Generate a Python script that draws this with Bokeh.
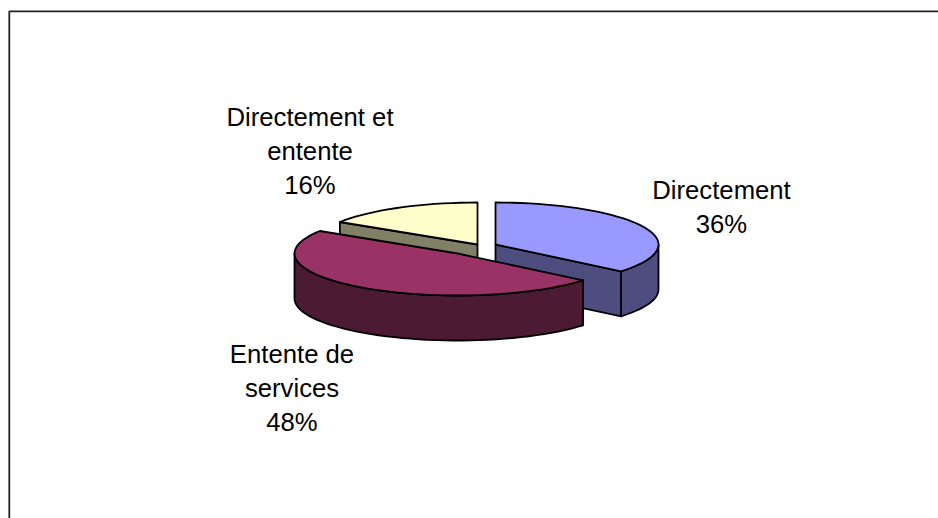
import math
from bokeh.plotting import figure
from bokeh.models import Range1d
from bokeh.core.properties import value
from bokeh.embed import file_html
from bokeh.resources import INLINE

# ---- data ----
categories = ["Directement", "Entente de services", "Directement et entente"]
shares = [36, 48, 16]
label_lines = [["Directement"], ["Entente de", "services"], ["Directement et", "entente"]]

# ---- style ----
top_colors = ["#9999FF", "#993366", "#FFFFCC"]
side_colors = ["#4D4D80", "#4D1A33", "#808066"]
FONT = "Liberation Sans"
FONT_SIZE = "25.7px"
LINE_H = 34

# ---- layout (page pixels) ----
W, H = 938, 518
RX, RY, DEPTH = 163, 42, 45
centres = [(495, 244), (457, 253), (477, 244)]
label_anchor = [(721, 189.5), (291.5, 353.5), (309.5, 116.5)]

p = figure(width=W, height=H, x_range=Range1d(0, W), y_range=Range1d(H, 0),
           toolbar_location=None, output_backend="svg", min_border=0)
p.axis.visible = False
p.grid.visible = False
p.outline_line_color = None
p.background_fill_color = "white"
p.border_fill_color = "white"

# chart frame: top and left edges only
p.line([8.8, 8.8, W], [H, 10.8, 10.8], line_color="#222222", line_width=1.8)


def rim(c, a0, a1, step=3.0):
    n = max(2, int(abs(a1 - a0) / step) + 1)
    pts = [a0 + (a1 - a0) * i / (n - 1) for i in range(n)]
    xs = [c[0] + RX * math.sin(math.radians(a)) for a in pts]
    ys = [c[1] - RY * math.cos(math.radians(a)) for a in pts]
    return xs, ys


def poly(xs, ys, color):
    p.patch(xs, ys, fill_color=color, line_color="black", line_width=1.8, line_join="round")


# slice angles from the values, clockwise from 12 o'clock
total = sum(shares)
angles = []
acc = 0.0
for s in shares:
    a0 = acc / total * 360
    acc += s
    angles.append((a0, acc / total * 360))


def cut_face(c, a, color):
    x = c[0] + RX * math.sin(math.radians(a))
    y = c[1] - RY * math.cos(math.radians(a))
    poly([c[0], x, x, c[0]], [c[1], y, y + DEPTH, c[1] + DEPTH], color)


def outer_wall(c, a0, a1, color):
    xs, ys = rim(c, a0, a1)
    poly(xs + xs[::-1], ys + [y + DEPTH for y in ys[::-1]], color)


def top_face(c, a0, a1, color):
    xs, ys = rim(c, a0, a1)
    poly([c[0]] + xs, [c[1]] + ys, color)


# back to front: yellow, blue, magenta
for i in (2, 0, 1):
    c = centres[i]
    a0, a1 = angles[i]
    if i == 2:
        cut_face(c, a0, side_colors[i])
    if i == 0:
        cut_face(c, a1, side_colors[i])
        outer_wall(c, 90, a1, side_colors[i])
    if i == 1:
        outer_wall(c, a0, 270, side_colors[i])
    top_face(c, a0, a1, top_colors[i])

# labels
for i in range(len(categories)):
    lines = label_lines[i] + [f"{shares[i]}%"]
    x0, y0 = label_anchor[i]
    p.text([x0] * len(lines), [y0 + k * LINE_H for k in range(len(lines))], text=lines,
           text_font=value(FONT), text_font_size=value(FONT_SIZE), text_color="black",
           text_align="center", text_baseline="middle")

open("out.html", "w").write(file_html(p, INLINE))
